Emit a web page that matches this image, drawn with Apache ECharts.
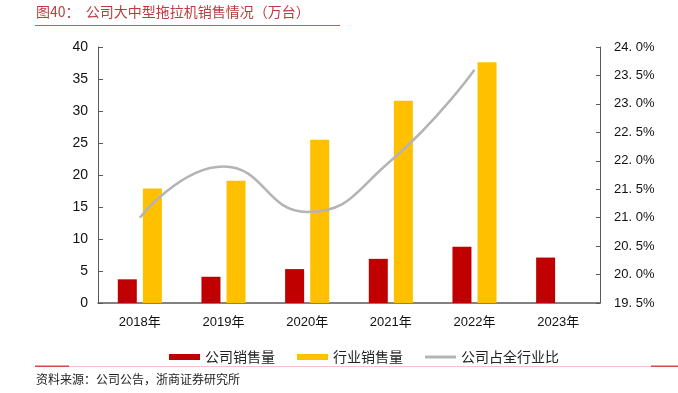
<!DOCTYPE html>
<html><head><meta charset="utf-8">
<script src="https://cdn.jsdelivr.net/npm/echarts@6/dist/echarts.min.js"></script>
<style>html,body{margin:0;padding:0;background:#fff}#c{width:678px;height:393px}</style>
</head><body><div id="c"></div>
<script>
const categories = ['2018年','2019年','2020年','2021年','2022年','2023年'];
const companySales = [3.7, 4.1, 5.3, 6.9, 8.8, 7.1];
const industrySales = [17.9, 19.1, 25.5, 31.6, 37.6, null];
const companyShare = [21.0, 21.9, 21.1, 22.0, 23.6, null];
const seriesNames = ['公司销售量','行业销售量','公司占全行业比'];
const titleText = '图40：  公司大中型拖拉机销售情况（万台）';
const sourceText = '资料来源：公司公告，浙商证券研究所';

const FONT = '"Liberation Sans", Arial, "Noto Sans CJK SC", sans-serif';
const CJK = '"Noto Sans CJK SC", sans-serif';
const chart = echarts.init(document.getElementById('c'), null, {renderer:'canvas'});
chart.setOption({
  animation:false,
  backgroundColor:'#fff',
  grid:{left:98,right:78,top:47,bottom:90,containLabel:false},
  legend:{
    data:[{name:seriesNames[0],icon:'rect'},{name:seriesNames[1],icon:'rect'},
          {name:seriesNames[2],icon:'path://M0,0h31v3h-31z'}],
    symbolKeepAspect:true,
    left:164, top:345, itemWidth:31, itemHeight:6, itemGap:22,
    textStyle:{fontFamily:CJK,fontSize:14,color:'#222'}
  },
  xAxis:{
    type:'category', data:categories,
    axisLine:{lineStyle:{color:'#595959',width:1.5}},
    axisTick:{inside:true,length:4,lineStyle:{color:'#333'}},
    axisLabel:{fontFamily:FONT,fontSize:13,color:'#111',margin:13}
  },
  yAxis:[
    {type:'value',min:0,max:40,interval:5,
     axisLine:{show:true,lineStyle:{color:'#595959'}},
     axisTick:{show:true,inside:true,length:5,lineStyle:{color:'#595959'}},
     splitLine:{show:false},
     axisLabel:{fontFamily:FONT,fontSize:14,color:'#111',margin:10}},
    {type:'value',min:19.5,max:24,interval:0.5,position:'right',
     axisLine:{show:true,lineStyle:{color:'#595959'}},
     axisTick:{show:true,inside:true,length:4,lineStyle:{color:'#595959'}},
     splitLine:{show:false},
     axisLabel:{fontFamily:FONT,fontSize:13,color:'#111',margin:14,
       formatter:v=>{const s=v.toFixed(1).split('.');return s[0]+'. '+s[1]+'%';}}}
  ],
  series:[
    {name:seriesNames[0],type:'bar',data:companySales,barWidth:19,barGap:'32%',
     itemStyle:{color:'#C00000'}},
    {name:seriesNames[1],type:'bar',data:industrySales,barWidth:19,
     itemStyle:{color:'#FFC000'}},
    {name:seriesNames[2],type:'line',yAxisIndex:1,data:companyShare,smooth:0.5,
     symbol:'none',lineStyle:{color:'#B4B4B4',width:2.5},itemStyle:{color:'#B4B4B4'}}
  ],
  graphic:[
    {type:'text',left:36,top:5,style:{text:titleText,fontFamily:CJK,fontSize:14,fill:'#C0393F'}},
    {type:'rect',shape:{x:35,y:25,width:305,height:1},style:{fill:'#D0585C'}},
    {type:'rect',shape:{x:35,y:366,width:643,height:1},style:{fill:'#F2C4C4'}},
    {type:'rect',shape:{x:35,y:365.5,width:34,height:1.5},style:{fill:'#D9464B'}},
    {type:'rect',shape:{x:651,y:365.5,width:27,height:1.5},style:{fill:'#D9464B'}},
    {type:'text',left:36,top:373,style:{text:sourceText,fontFamily:CJK,fontSize:12,fill:'#222'}}
  ]
});
</script></body></html>
